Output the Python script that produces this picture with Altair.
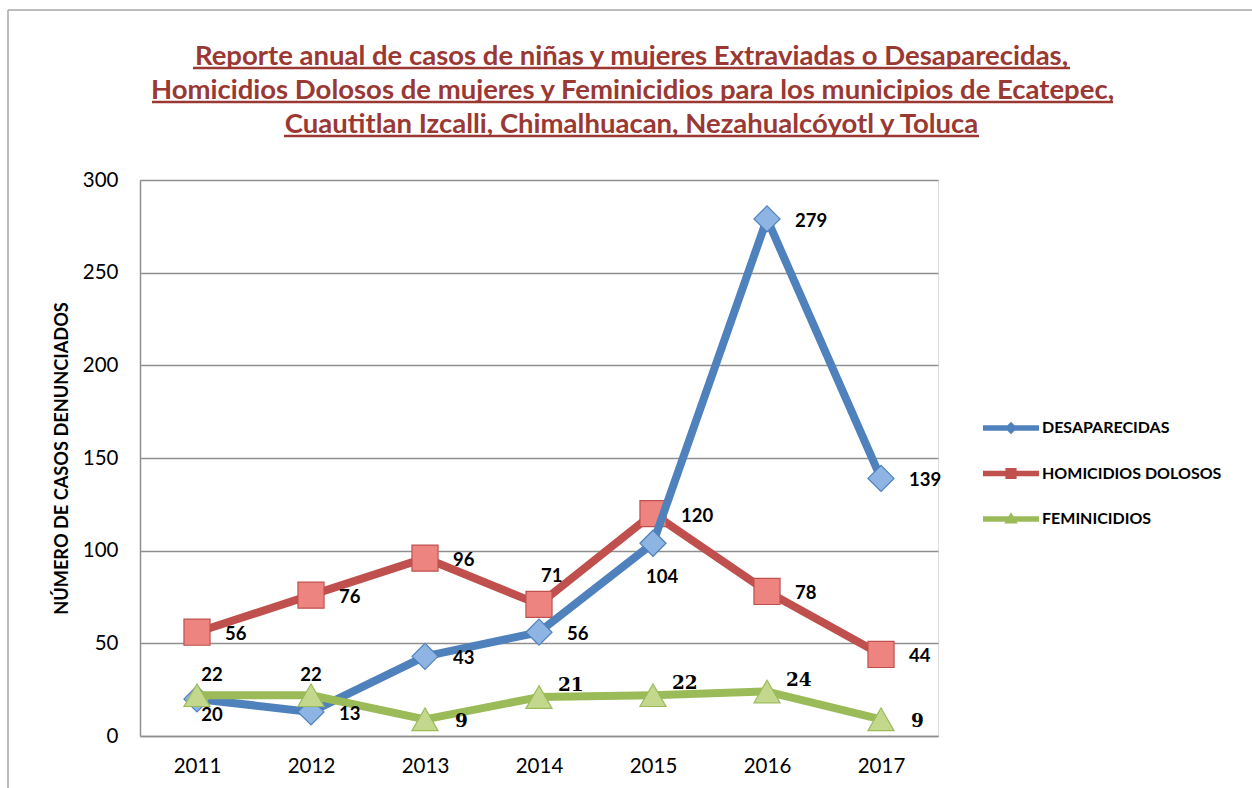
import altair as alt
import pandas as pd

# ---------------- data ----------------
years = ["2011", "2012", "2013", "2014", "2015", "2016", "2017"]
series_names = ["DESAPARECIDAS", "HOMICIDIOS DOLOSOS", "FEMINICIDIOS"]
desaparecidas = [20, 13, 43, 56, 104, 279, 139]
homicidios = [56, 76, 96, 71, 120, 78, 44]
feminicidios = [22, 22, 9, 21, 22, 24, 9]

# data-label placement used in the original chart (one per point)
pos_desaparecidas = ["lowright", "right", "right", "right", "below", "right", "right"]
pos_homicidios = ["right", "right", "right", "above", "right", "right", "right"]
pos_feminicidios = ["topright", "top", "rserif", "userif", "userif", "userif", "rserif"]

title_lines = [
    "Reporte anual de casos de niñas y mujeres Extraviadas o Desaparecidas,",
    "Homicidios Dolosos de mujeres y Feminicidios para los municipios de Ecatepec,",
    "Cuautitlan Izcalli, Chimalhuacan, Nezahualcóyotl y Toluca",
]
y_title = "NÚMERO DE CASOS DENUNCIADOS"
y_ticks = [0, 50, 100, 150, 200, 250, 300]

# ---------------- styles ----------------
line_colors = ["#4F81BD", "#C0504D", "#9BBB59"]
marker_fills = ["#8DB4E2", "#EE8480", "#C3D88C"]
marker_shapes = ["diamond", "square", "triangle-up"]
draw_order = [1, 0, 2]
legend_paths = [
    "M-1,-0.1L1,-0.1L1,0.1L-1,0.1Z M0,-0.22L0.22,0L0,0.22L-0.22,0Z",
    "M-1,-0.1L1,-0.1L1,0.1L-1,0.1Z M-0.2,-0.2L0.2,-0.2L0.2,0.2L-0.2,0.2Z",
    "M-1,-0.1L1,-0.1L1,0.1L-1,0.1Z M0,-0.24L0.24,0.16L-0.24,0.16Z",
]
title_color = "#9A3834"
grid_color = "#8F8F8F"
FONT = "Lato"
TITLE_FONT = "Lato"

placements = {
    "right": dict(dx=28, dy=2, align="left", font=FONT),
    "rserif": dict(dx=30, dy=2, align="left", font="DejaVu Serif"),
    "below": dict(dx=-7, dy=34, align="left", font=FONT),
    "above": dict(dx=2, dy=-28, align="left", font=FONT),
    "userif": dict(dx=19, dy=-12, align="left", font="DejaVu Serif"),
    "top": dict(dx=0, dy=-20, align="center", font=FONT),
    "topright": dict(dx=15, dy=-20, align="center", font=FONT),
    "lowright": dict(dx=15, dy=16, align="center", font=FONT),
}

W, H = 798, 556
PAD = {"left": 140, "top": 180, "right": 1252 - 140 - W, "bottom": 788 - 180 - H}

rows = []
for name, vals, poss in zip(series_names,
                            [desaparecidas, homicidios, feminicidios],
                            [pos_desaparecidas, pos_homicidios, pos_feminicidios]):
    for yr, v, p in zip(years, vals, poss):
        rows.append({"year": yr, "value": v, "series": name, "pos": p})
df = pd.DataFrame(rows)

x_enc = alt.X(
    "year:O",
    sort=years,
    scale=alt.Scale(type="point", padding=0.5),
    axis=alt.Axis(
        title=None, labelAngle=0, labelFont=FONT, labelFontSize=20.5,
        labelColor="black", labelPadding=20, ticks=False, grid=False,
        domainColor=grid_color, domainWidth=1.5,
    ),
)
y_enc = alt.Y(
    "value:Q",
    scale=alt.Scale(domain=[0, 300], nice=False),
    axis=alt.Axis(
        values=y_ticks, title=y_title, titleFont=FONT, titleFontSize=18.2,
        titleFontWeight="bold", titleColor="black", titlePadding=11,
        labelFont=FONT, labelFontSize=20.5, labelColor="black", labelPadding=22,
        ticks=False, gridColor=grid_color, gridWidth=1.5,
        domainColor=grid_color, domainWidth=1.5,
    ),
)

base = alt.Chart(df)

series_layers = []
for i in draw_order:
    name = series_names[i]
    sub = base.transform_filter(alt.datum.series == name)
    series_layers.append(
        sub.mark_line(strokeWidth=8, strokeCap="round", strokeJoin="round",
                      color=line_colors[i]).encode(x=x_enc, y=y_enc)
    )
    series_layers.append(
        sub.mark_point(filled=True, shape=marker_shapes[i], size=680,
                       fill=marker_fills[i], stroke=line_colors[i],
                       strokeWidth=1.2, opacity=1).encode(x=x_enc, y=y_enc)
    )

label_layers = []
for key, st in placements.items():
    label_layers.append(
        base.transform_filter(alt.datum.pos == key)
        .mark_text(dx=st["dx"], dy=st["dy"], align=st["align"], baseline="middle",
                   font=st["font"], fontSize=18.5, fontWeight="bold", color="black")
        .encode(x=x_enc, y=y_enc, text="value:Q")
    )

leg = alt.Legend(
    orient="none", legendX=843, legendY=220, title=None,
    labelFont=FONT, labelFontSize=16, labelFontWeight="bold", labelColor="black",
    labelLimit=400,
    symbolSize=3136, symbolStrokeWidth=0, symbolOpacity=1, labelOffset=3, rowPadding=9.5,
)
# invisible marks whose only job is to carry the legend
legend_layer = base.transform_filter(alt.datum.year == "2011").mark_point(
    filled=True, opacity=0, size=1
).encode(
    x=x_enc, y=y_enc,
    color=alt.Color("series:N", scale=alt.Scale(domain=series_names, range=line_colors), legend=leg),
    shape=alt.Shape("series:N", scale=alt.Scale(domain=series_names, range=legend_paths), legend=leg),
)

one = pd.DataFrame({"k": [0]})
frame_top = alt.Chart(one).mark_rule(color="#A6A6A6", strokeWidth=1.5).encode(
    x=alt.value(-132), x2=alt.value(1112), y=alt.value(-170))
frame_left = alt.Chart(one).mark_rule(color="#A6A6A6", strokeWidth=1.5).encode(
    x=alt.value(-132), y=alt.value(-170), y2=alt.value(608))

title_layers = []
for txt, (x0, x1, yb) in zip(title_lines, [(53, 930, -115), (12, 973, -81), (144, 839, -47)]):
    title_layers.append(
        alt.Chart(one).mark_text(
            text=txt, font=TITLE_FONT, fontSize=27.5, fontWeight="bold", color=title_color,
            align="center", baseline="alphabetic",
        ).encode(x=alt.value((x0 + x1) / 2), y=alt.value(yb))
    )
    title_layers.append(
        alt.Chart(one).mark_rule(color=title_color, strokeWidth=2.5).encode(
            x=alt.value(x0), x2=alt.value(x1), y=alt.value(yb + 3))
    )

chart = alt.layer(
    *series_layers, *label_layers, legend_layer, frame_top, frame_left, *title_layers
).properties(
    width=W, height=H,
    autosize=alt.AutoSizeParams(type="none"),
    padding=PAD,
).configure_view(strokeWidth=0).configure(background="white")

chart.save("out.html", embed_options={"renderer": "svg", "actions": False})
